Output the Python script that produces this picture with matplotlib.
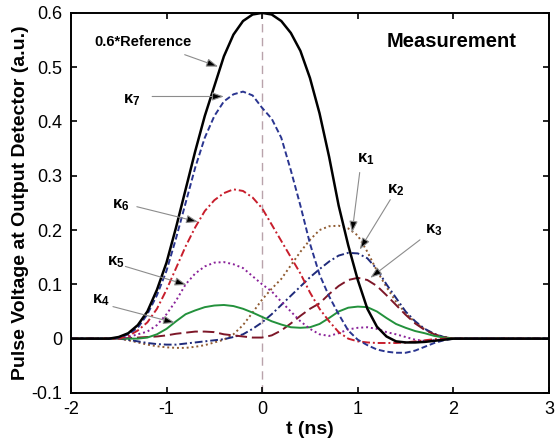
import numpy as np
import matplotlib
matplotlib.use("Agg")
import matplotlib.pyplot as plt

plt.rcParams['font.family'] = ['Liberation Sans', 'DejaVu Sans']
plt.rcParams['mathtext.fontset'] = 'custom'
plt.rcParams['mathtext.it'] = 'Liberation Sans:bold'
plt.rcParams['mathtext.rm'] = 'Liberation Sans:bold'
plt.rcParams['mathtext.bf'] = 'Liberation Sans:bold'

# sample times (ns), one value every 0.1 ns
t = np.round(np.arange(-2.0, 3.01, 0.1), 1)
tail = [0.0] * 11   # t = 2.0 ... 3.0, all curves flat

ref = [0, 0, 0, 0, 0, 0.003, 0.01, 0.025, 0.05, 0.09,
       0.14, 0.205, 0.275, 0.345, 0.41, 0.465, 0.52, 0.56, 0.585, 0.597,
       0.6, 0.597, 0.585, 0.563, 0.53, 0.48, 0.415, 0.335, 0.245, 0.172,
       0.108, 0.055, 0.022, 0.004, -0.005, -0.007, -0.007, -0.006, -0.004, -0.002] + tail
k7 = [0, 0, 0, 0, 0, 0.002, 0.008, 0.02, 0.045, 0.08,
      0.125, 0.185, 0.25, 0.315, 0.37, 0.41, 0.437, 0.45, 0.455, 0.448,
      0.425, 0.405, 0.37, 0.31, 0.245, 0.175, 0.118, 0.078, 0.045, 0.015,
      -0.002, -0.012, -0.02, -0.024, -0.026, -0.026, -0.022, -0.015, -0.008, -0.003] + tail
k6 = [0, 0, 0, 0, 0, 0, 0.005, 0.015, 0.03, 0.055,
      0.09, 0.13, 0.17, 0.205, 0.235, 0.255, 0.268, 0.275, 0.272, 0.26,
      0.24, 0.21, 0.18, 0.15, 0.12, 0.085, 0.055, 0.032, 0.012, 0.0,
      -0.005, -0.007, -0.008, -0.008, -0.008, -0.007, -0.005, -0.003, -0.001, 0] + tail
k5 = [0, 0, 0, 0, 0, 0, 0.003, 0.008, 0.013, 0.025,
      0.045, 0.07, 0.1, 0.12, 0.133, 0.14, 0.141, 0.137, 0.13, 0.115,
      0.1, 0.087, 0.068, 0.05, 0.032, 0.018, 0.008, 0.005, 0.01, 0.017,
      0.02, 0.021, 0.018, 0.012, 0.008, 0.003, -0.002, -0.004, -0.003, -0.001] + tail
k4 = [0, 0, 0, 0, 0, 0, 0, 0, 0.002, 0.008,
      0.018, 0.032, 0.045, 0.052, 0.058, 0.061, 0.062, 0.06, 0.055, 0.048,
      0.04, 0.032, 0.026, 0.021, 0.02, 0.021, 0.027, 0.038, 0.05, 0.057,
      0.059, 0.058, 0.05, 0.038, 0.027, 0.02, 0.014, 0.01, 0.005, 0.002] + tail
k3 = [0, 0, 0, 0, 0, 0, 0.001, 0.002, 0.003, 0.004,
      0.006, 0.009, 0.011, 0.013, 0.013, 0.012, 0.008, 0.006, 0.004, 0.002,
      0.002, 0.006, 0.015, 0.028, 0.042, 0.055, 0.065, 0.082, 0.097, 0.108,
      0.112, 0.108, 0.097, 0.08, 0.062, 0.044, 0.028, 0.016, 0.008, 0.003] + tail
k2 = [0, 0, 0, 0, 0, 0, -0.002, -0.005, -0.008, -0.01,
      -0.011, -0.011, -0.009, -0.007, -0.005, -0.003, -0.001, 0.003, 0.008, 0.018,
      0.03, 0.045, 0.062, 0.079, 0.096, 0.113, 0.128, 0.142, 0.153, 0.158,
      0.157, 0.148, 0.128, 0.1, 0.075, 0.05, 0.032, 0.018, 0.009, 0.003] + tail
k1 = [0, 0, 0, 0, 0, 0, -0.003, -0.007, -0.011, -0.014,
      -0.016, -0.017, -0.017, -0.015, -0.012, -0.007, -0.002, 0.008, 0.025, 0.048,
      0.072, 0.092, 0.11, 0.135, 0.16, 0.182, 0.2, 0.207, 0.208, 0.203,
      0.19, 0.16, 0.125, 0.095, 0.068, 0.047, 0.03, 0.017, 0.008, 0.003] + tail

fig = plt.figure(figsize=(5.58, 4.44), dpi=100)
ax = fig.add_axes([0.127, 0.115, 0.857, 0.856])

ax.axvline(0, color='#b9a3ab', lw=1.0, ls=(0, (6, 4)), zorder=1)

ax.plot(t, k1, color='#8f5a30', lw=1.4, ls=(0, (1, 1.5)))
ax.plot(t, k2, color='#1f2a7a', lw=1.4, ls=(0, (4, 1.5, 1, 1.5)))
ax.plot(t, k3, color='#7d1728', lw=1.4, ls=(0, (6, 2.5)))
ax.plot(t, k4, color='#23913c', lw=1.4, ls='-')
ax.plot(t, k5, color='#8a2299', lw=1.4, ls=(0, (1, 1.5)))
ax.plot(t, k6, color='#c81e2c', lw=1.4, ls=(0, (4, 1.5, 1, 1.5)))
ax.plot(t, k7, color='#2a3590', lw=1.4, ls=(0, (3, 1.5)))
ax.plot(t, ref, color='black', lw=1.8)

ax.set_xlim(-2, 3)
ax.set_ylim(-0.1, 0.6)
ax.set_xticks([-2, -1, 0, 1, 2, 3])
ax.set_yticks([-0.1, 0, 0.1, 0.2, 0.3, 0.4, 0.5, 0.6])
ax.set_yticklabels(['-0.1', '0', '0.1', '0.2', '0.3', '0.4', '0.5', '0.6'])
ax.set_xticklabels(['-2', '-1', '0', '1', '2', '3'])
ax.tick_params(direction='in', top=True, right=True, length=4, width=1.2,
               labelsize=13, pad=6)
for s in ax.spines.values():
    s.set_linewidth(1.4)

ax.set_xlabel('t (ns)', fontsize=14, fontweight='bold', labelpad=2)
ax.set_ylabel('Pulse Voltage at Output Detector (a.u.)', fontsize=14,
              fontweight='bold', labelpad=2)

ax.text(1.985, 0.547, 'Measurement', fontsize=14.5, fontweight='bold',
        ha='center', va='center')

# labels with arrows: (text, text pos, arrow start, arrow tip)
notes = [
    ('0.6*Reference', (-1.75, 0.546), (-0.81, 0.523), (-0.46, 0.501)),
    (r'$\kappa_7$', (-1.46, 0.44), (-1.15, 0.446), (-0.40, 0.446)),
    (r'$\kappa_6$', (-1.57, 0.245), (-1.31, 0.243), (-0.67, 0.215)),
    (r'$\kappa_5$', (-1.62, 0.14), (-1.43, 0.133), (-0.79, 0.099)),
    (r'$\kappa_4$', (-1.78, 0.07), (-1.56, 0.059), (-0.91, 0.029)),
    (r'$\kappa_1$', (0.99, 0.33), (1.02, 0.306), (0.94, 0.195)),
    (r'$\kappa_2$', (1.31, 0.273), (1.34, 0.256), (1.02, 0.164)),
    (r'$\kappa_3$', (1.70, 0.199), (1.65, 0.182), (1.13, 0.112)),
]
for label, tpos, start, tip in notes:
    fs = 10.5 if label.startswith('0.6') else 12
    ax.text(tpos[0], tpos[1], label, fontsize=fs, fontweight='bold',
            ha='left', va='center')
    ax.annotate('', xy=tip, xytext=start,
                arrowprops=dict(arrowstyle='-|>,head_length=0.7,head_width=0.25',
                                edgecolor='0.55', facecolor='black', lw=0.8,
                                shrinkA=0, shrinkB=0))

fig.savefig('out.png', dpi=100)
